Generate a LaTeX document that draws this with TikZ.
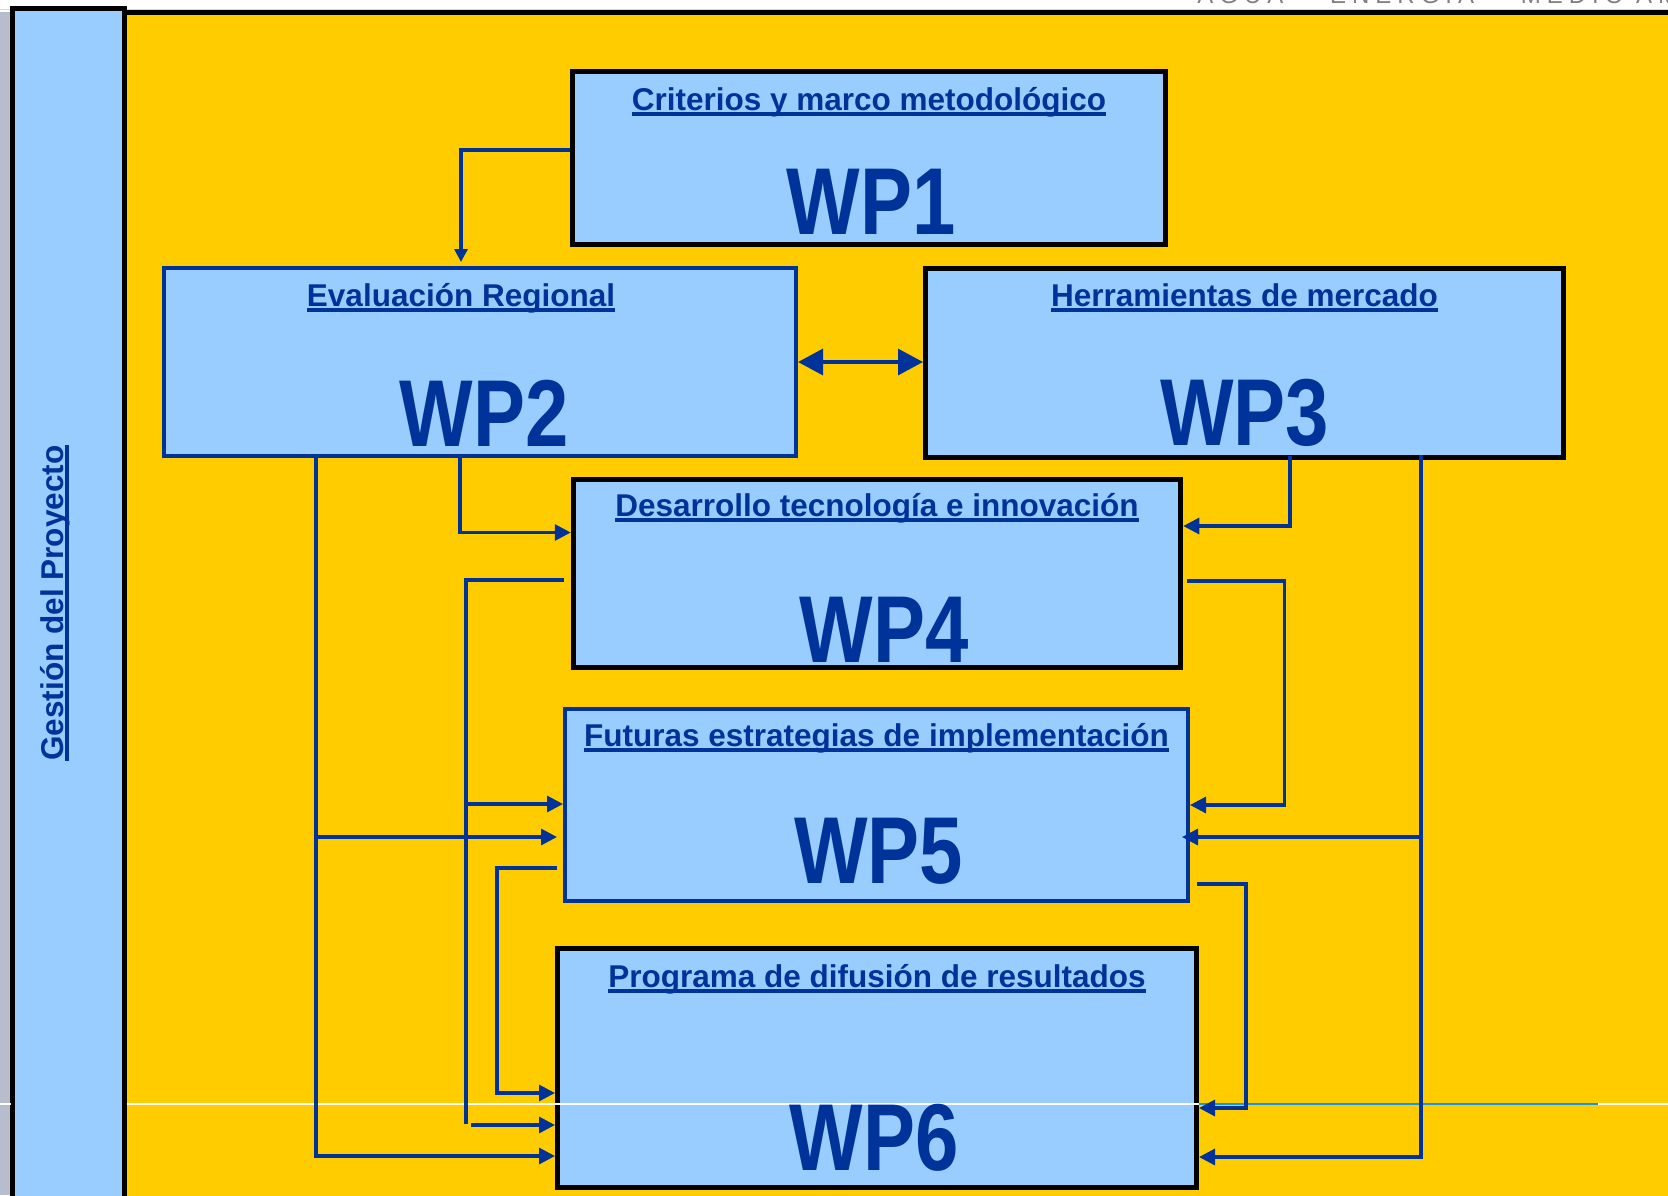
\documentclass[tikz,border=0pt]{standalone}
\usepackage{fontspec}
\setmainfont{Liberation Sans}
\newfontfamily\wpfont[FakeStretch=0.82]{Liberation Sans}
\newfontfamily\cabfont[LetterSpace=25]{Liberation Sans}
\usetikzlibrary{arrows.meta,calc}
\definecolor{amarillo}{HTML}{FFCC00}
\definecolor{celeste}{HTML}{99CCFF}
\definecolor{azul}{HTML}{003399}
\definecolor{gris}{HTML}{B8BDCE}
\definecolor{linea}{HTML}{1199EE}
\newcommand\ulin[1]{\setbox0=\hbox{#1}\rlap{\rule[-2.9pt]{\wd0}{2pt}}\box0}
\begin{document}
\begin{tikzpicture}[x=0.5pt,y=-0.5pt,
	caja/.style={draw=black,line width=2.5pt,fill=celeste,inner sep=0pt},
	cajaz/.style={caja,draw=azul,line width=2pt},
	titulo/.style={text=azul,font=\bfseries\fontsize{15.75}{18}\selectfont,inner sep=0pt,anchor=base},
	wp/.style={text=azul,font=\wpfont\bfseries\fontsize{47.5}{50}\selectfont,inner sep=0pt,anchor=base},
	link/.style={draw=azul,line width=1.6pt},
	arr/.style={link,-{Triangle[length=8pt,width=8pt]}}]
	\useasboundingbox (0,0) rectangle (1668,1195);
	\fill[white] (0,0) rectangle (1668,1195);
	\fill[gris] (0,12) rectangle (11,1195);
	\draw[gris!60,line width=0.4pt] (0,9) -- (1668,9);
	\filldraw[fill=amarillo,line width=2.5pt] (124.5,12.5) rectangle (1672,1199);
	\filldraw[fill=celeste,line width=2.5pt] (12.5,8) rectangle (124.5,1199);
	\begin{scope}
	\clip (0,0) rectangle (1668,1195);
	\node[anchor=base west,inner sep=0pt,text=gray,font=\cabfont\fontsize{12}{14}\selectfont] (cabecera) at (1197,3) {AGUA \,–\, ENERGÍA \,–\, MEDIO AMBIENTE};
	\end{scope}
	\node[caja,minimum width=296.5pt,minimum height=86.5pt] (wp1) at (869,158) {};
	\node[cajaz,minimum width=316pt,minimum height=94pt] (wp2) at (480,362) {};
	\node[caja,minimum width=319pt,minimum height=94.5pt] (wp3) at (1244.5,363) {};
	\node[caja,minimum width=303.75pt,minimum height=94pt] (wp4) at (877,573.5) {};
	\node[cajaz,minimum width=311.5pt,minimum height=96pt] (wp5) at (876.5,805) {};
	\node[caja,minimum width=319.5pt,minimum height=119.5pt] (wp6) at (877,1068) {};
	\draw[white,line width=0.6pt] (0,1104) -- (11,1104) (127,1104) -- (1668,1104);
	\draw[linea,line width=0.6pt] (wp6.east |- 0,1104) -- (1598,1104);
	% flechas
	\draw[link,-{Triangle[length=6.5pt,width=6.5pt]}] ($(wp1.west)+(0,-8)$) -| ($(wp2.north)+(-19,-4)$);
	\draw[link,{Triangle[length=12.5pt,width=13pt]}-{Triangle[length=12.5pt,width=13pt]}] (wp2.east) -- (wp2.east -| wp3.west);
	\draw[arr] ($(wp2.south)+(-20,-4)$) |- ($(wp4.west)+(0,-41)$);
	\draw[arr] ($(wp3.south)+(45.5,-4)$) |- ($(wp4.east)+(0,-47.5)$);
	\coordinate (b2) at ($(wp2.south)+(-164,-4)$);
	\coordinate (b3) at ($(wp3.south)+(176.5,-5)$);
	\draw[arr] (b2) |- ($(wp6.west)+(0,88)$);
	\draw[arr] ($(b2 |- wp5.west)+(0,32)$) -- ($(wp5.west)+(-6,32)$);
	\draw[link] ($(wp4.west)+(-7,6.5)$) -| ($(wp6.west)+(-89,56)$);
	\draw[arr] ($(wp5.west)+(-97,-1)$) -- ($(wp5.west)+(0,-1)$);
	\draw[arr] ($(wp6.west)+(-84,57)$) -- ($(wp6.west)+(0,57)$);
	\draw[arr] ($(wp5.west)+(-6,63)$) -- ++(-60,0) |- ($(wp6.west)+(0,25)$);
	\draw[arr] ($(wp4.east)+(4,7.5)$) -- ++(97,0) |- (wp5.east);
	\draw[arr] (b3) |- ($(wp6.east)+(0,89)$);
	\draw[arr] ($(b3 |- wp5.east)+(0,32)$) -- ($(wp5.east)+(-8,32)$);
	\draw[arr] ($(wp5.east)+(7,79)$) -- ++(49,0) |- ($(wp6.east)+(0,40)$);
	% textos
	\node[titulo,rotate=90] (gestion) at (63,603) {\ulin{Gestión del Proyecto}};
	\node[titulo] (t1) at ($(wp1.north)+(0,41)$) {\ulin{Criterios y marco metodológico}};
	\node[titulo] (t2) at ($(wp2.north)+(-19,40)$) {\ulin{Evaluación Regional}};
	\node[titulo] (t3) at ($(wp3.north)+(0,40)$) {\ulin{Herramientas de mercado}};
	\node[titulo] (t4) at ($(wp4.north)+(0,39)$) {\ulin{Desarrollo tecnología e innovación}};
	\node[titulo] (t5) at ($(wp5.north)+(0,39)$) {\ulin{Futuras estrategias de implementación}};
	\node[titulo] (t6) at ($(wp6.north)+(0,41)$) {\ulin{Programa de difusión de resultados}};
	\node[wp] (n1) at ($(wp1.south)+(2,-13)$) {WP1};
	\node[wp] (n2) at ($(wp2.south)+(4,-11.5)$) {WP2};
	\node[wp] (n3) at ($(wp3.south)+(0,-15)$) {WP3};
	\node[wp] (n4) at ($(wp4.south)+(7,-8)$) {WP4};
	\node[wp] (n5) at ($(wp5.south)+(2,-20)$) {WP5};
	\node[wp] (n6) at ($(wp6.south)+(-3,-20)$) {WP6};
\end{tikzpicture}
\end{document}
